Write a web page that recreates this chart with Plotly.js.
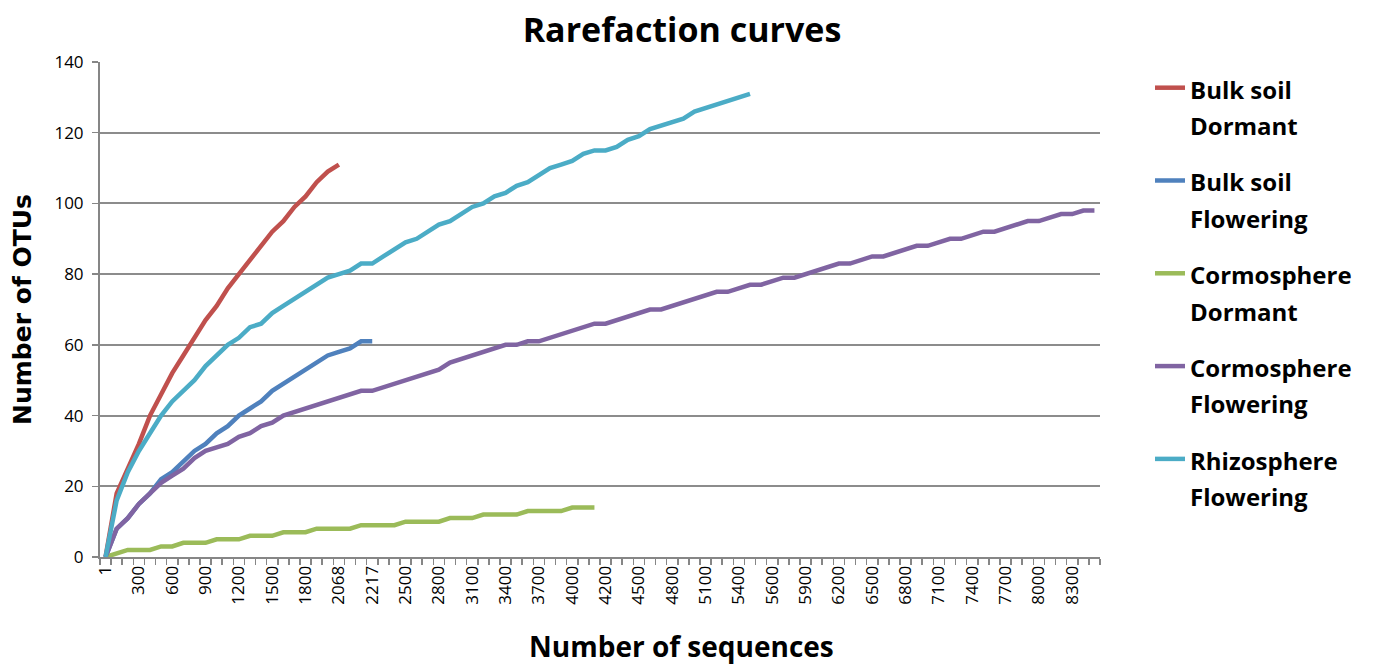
<!DOCTYPE html>
<html>
<head>
<meta charset="utf-8">
<script src="https://cdn.plot.ly/plotly-3.0.1.min.js"></script>
<style>html,body{margin:0;padding:0;background:#fff;}#chart{width:1375px;height:664px;}</style>
</head>
<body>
<div id="chart"></div>
<script>
// Categories (number of sequences) as shown on the category axis
const categories = ["1","100","200","300","400","500","600","700","800","900","1000","1100","1200","1300","1400","1500","1600","1700","1800","1900","2000","2068","2100","2200","2217","2300","2400","2500","2600","2700","2800","2900","3000","3100","3200","3300","3400","3500","3600","3700","3800","3900","4000","4100","4136","4200","4300","4400","4500","4600","4700","4800","4900","5000","5100","5200","5300","5400","5452","5500","5600","5700","5800","5900","6000","6100","6200","6300","6400","6500","6600","6700","6800","6900","7000","7100","7200","7300","7400","7500","7600","7700","7800","7900","8000","8100","8200","8300","8400","8448"];
const tickLabels = ["1","300","600","900","1200","1500","1800","2068","2217","2500","2800","3100","3400","3700","4000","4200","4500","4800","5100","5400","5600","5900","6200","6500","6800","7100","7400","7700","8000","8300"];

const bulkSoilDormant = [0,18,25,32,40,46,52,57,62,67,71,76,80,84,88,92,95,99,102,106,109,111];
const bulkSoilFlowering = [0,8,11,15,18,22,24,27,30,32,35,37,40,42,44,47,49,51,53,55,57,58,59,61,61];
const cormosphereDormant = [0,1,2,2,2,3,3,4,4,4,5,5,5,6,6,6,7,7,7,8,8,8,8,9,9,9,9,10,10,10,10,11,11,11,12,12,12,12,13,13,13,13,14,14,14];
const cormosphereFlowering = [0,8,11,15,18,21,23,25,28,30,31,32,34,35,37,38,40,41,42,43,44,45,46,47,47,48,49,50,51,52,53,55,56,57,58,59,60,60,61,61,62,63,64,65,66,66,67,68,69,70,70,71,72,73,74,75,75,76,77,77,78,79,79,80,81,82,83,83,84,85,85,86,87,88,88,89,90,90,91,92,92,93,94,95,95,96,97,97,98,98];
const rhizosphereFlowering = [0,16,24,30,35,40,44,47,50,54,57,60,62,65,66,69,71,73,75,77,79,80,81,83,83,85,87,89,90,92,94,95,97,99,100,102,103,105,106,108,110,111,112,114,115,115,116,118,119,121,122,123,124,126,127,128,129,130,131];

const seriesNames = [["Bulk soil","Dormant"],["Bulk soil","Flowering"],["Cormosphere","Dormant"],["Cormosphere","Flowering"],["Rhizosphere","Flowering"]];
const seriesValues = [bulkSoilDormant, bulkSoilFlowering, cormosphereDormant, cormosphereFlowering, rhizosphereFlowering];
const seriesColors = ["#C0504D","#4F81BD","#9BBB59","#8064A2","#4BACC6"];

const traces = seriesValues.map((vals, k) => ({
  type: "scatter",
  mode: "lines",
  name: seriesNames[k].map(s => "<span style='font-size:24px'><b>" + s + "</b></span>").join("<br>"),
  legendgroup: "g" + k,
  x: categories.slice(0, vals.length),
  y: vals,
  line: {color: seriesColors[k], width: 4.5}
}));

const font = "'Open Sans', Lato, sans-serif";
const layout = {
  width: 1375, height: 664,
  paper_bgcolor: "#fff", plot_bgcolor: "#fff",
  margin: {l: 100, r: 275, t: 62, b: 107},
  title: {text: "<b>Rarefaction curves</b>", font: {family: font, size: 34, color: "#000"}, x: 0.496, xanchor: "center", y: 0.955, yanchor: "middle"},
  showlegend: true,
  legend: {x: 1.05, xanchor: "left", y: 0.998, yanchor: "top", valign: "top", tracegroupgap: 17,
           font: {family: font, size: 28, color: "#000"}, bgcolor: "rgba(0,0,0,0)"},
  annotations: [{
    text: "<b>Number of sequences</b>", xref: "paper", yref: "paper",
    x: 0.581, y: -0.179, xanchor: "center", yanchor: "middle", showarrow: false,
    font: {family: font, size: 28, color: "#000"}
  }],
  xaxis: {
    type: "category", categoryorder: "array", categoryarray: categories,
    range: [-0.5, categories.length - 0.5],
    tickvals: categories,
    ticktext: categories.map(c => tickLabels.includes(c) ? c : ""),
    tickangle: -90, tickson: "boundaries",
    ticks: "outside", ticklen: 6, tickcolor: "#868686", tickwidth: 1.5,
    showline: true, linecolor: "#868686", linewidth: 2,
    showgrid: false, zeroline: false,
    tickfont: {family: font, size: 17, color: "#000"}
  },
  yaxis: {
    range: [0, 140], dtick: 20, tick0: 0,
    ticks: "outside", ticklen: 6, tickcolor: "#868686", tickwidth: 1.5,
    ticklabelstandoff: 5,
    showline: true, linecolor: "#868686", linewidth: 2,
    showgrid: true, gridcolor: "#8c8c8c", gridwidth: 2, zeroline: false,
    tickfont: {family: font, size: 17, color: "#000"},
    title: {text: "<b>Number of OTUs</b>", font: {family: "'DejaVu Sans', Verdana, sans-serif", size: 25, color: "#000"}, standoff: 16}
  }
};
Plotly.newPlot("chart", traces, layout, {displayModeBar: false, staticPlot: true});
</script>
</body>
</html>
